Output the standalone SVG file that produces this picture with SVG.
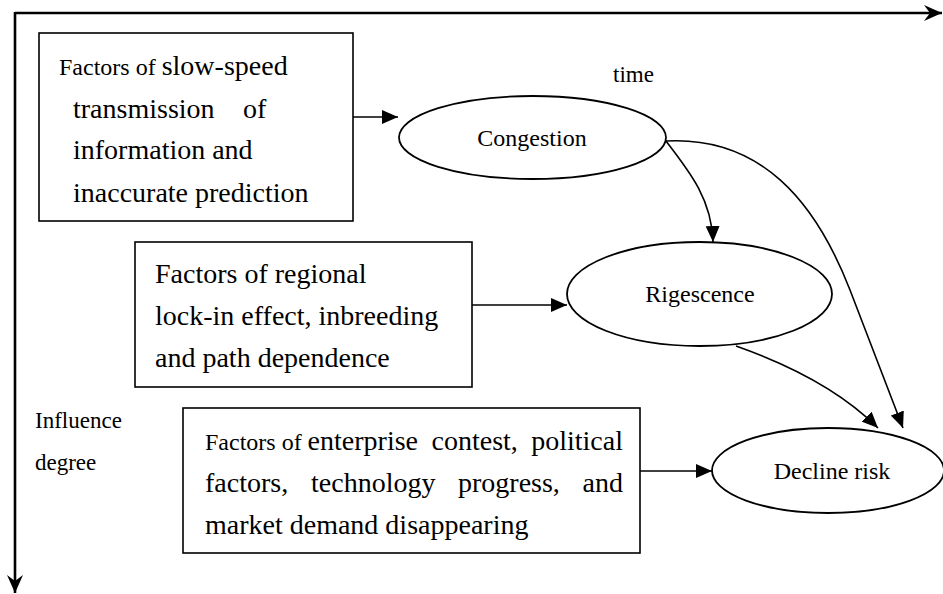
<svg xmlns="http://www.w3.org/2000/svg" width="943" height="594" viewBox="0 0 943 594" font-family="'Liberation Serif', 'DejaVu Serif', serif">
<style>
text{font-family:'Liberation Serif','DejaVu Serif',serif;fill:#000}
.box{fill:#fff;stroke:#000;stroke-width:1.6}
.ell{fill:#fff;stroke:#000;stroke-width:1.8}
.con{fill:none;stroke:#000;stroke-width:1.6}
.axis{fill:none;stroke:#000;stroke-width:2.6}
.t28{font-size:28px}
.t24{font-size:24px}
.t23{font-size:23px}
</style>
<defs>
<marker id="ah" markerUnits="userSpaceOnUse" viewBox="-16 -7 16 14" refX="0" refY="0" markerWidth="16" markerHeight="14" orient="auto">
<path d="M0,0 L-16,-7 L-16,7 Z" fill="#000"/>
</marker>
<marker id="ax" markerUnits="userSpaceOnUse" viewBox="-18 -9 18 18" refX="0" refY="0" markerWidth="18" markerHeight="18" orient="auto">
<path d="M0,0 L-18,-8 L-12,0 L-18,8 Z" fill="#000"/>
</marker>
</defs>
<rect width="943" height="594" fill="#fff"/>
<g id="axes">
<path class="axis" d="M15,13 L942,13" marker-end="url(#ax)"/>
<path class="axis" d="M15,12 L15,593" marker-end="url(#ax)"/>
<text class="t23" x="613" y="82">time</text>
<text class="t23" x="35" y="428">Influence</text>
<text class="t23" x="35" y="470">degree</text>
</g>
<g id="connectors">
<path class="con" d="M353,117 L398,117" marker-end="url(#ah)"/>
<path class="con" d="M472,305 L567,305" marker-end="url(#ah)"/>
<path class="con" d="M640,471 L712,471" marker-end="url(#ah)"/>
<path class="con" d="M666,141 C690,172 712,200 713,242" marker-end="url(#ah)"/>
<path class="con" d="M666,141 C760,136 815,200 850,290 L903,428" marker-end="url(#ah)"/>
<path class="con" d="M736,346 C790,365 840,390 878,428" marker-end="url(#ah)"/>
</g>
<g id="box1">
<rect class="box" x="39" y="33" width="314" height="188"/>
<text x="59" y="75"><tspan class="t24">Factors of </tspan><tspan class="t28">slow-speed</tspan></text>
<text class="t28" x="73" y="118">transmission</text>
<text class="t28" x="243" y="118">of</text>
<text class="t28" x="73" y="159">information and</text>
<text class="t28" x="73" y="202">inaccurate prediction</text>
</g>
<g id="box2">
<rect class="box" x="135" y="242" width="337" height="145"/>
<text class="t28" x="155" y="283">Factors of regional</text>
<text class="t28" x="155" y="325">lock-in effect, inbreeding</text>
<text class="t28" x="155" y="367">and path dependence</text>
</g>
<g id="box3">
<rect class="box" x="183" y="408" width="457" height="145"/>
<text class="t24" x="205" y="450">Factors of</text>
<text class="t28" x="307.6" y="450">enterprise</text>
<text class="t28" x="431.5" y="450">contest,</text>
<text class="t28" x="623" y="450" text-anchor="end">political</text>
<text class="t28" x="205" y="492">factors,</text>
<text class="t28" x="311" y="492">technology</text>
<text class="t28" x="458" y="492">progress,</text>
<text class="t28" x="623" y="492" text-anchor="end">and</text>
<text class="t28" x="205" y="534">market demand disappearing</text>
</g>
<g id="congestion">
<ellipse class="ell" cx="532.5" cy="137.5" rx="133.5" ry="41.5"/>
<text class="t24" x="532" y="146" text-anchor="middle">Congestion</text>
</g>
<g id="rigescence">
<ellipse class="ell" cx="699.5" cy="294" rx="132.5" ry="52"/>
<text class="t24" x="700" y="302" text-anchor="middle">Rigescence</text>
</g>
<g id="decline">
<ellipse class="ell" cx="828" cy="470.5" rx="116" ry="42.5"/>
<text class="t24" x="832" y="479" text-anchor="middle">Decline risk</text>
</g>
</svg>
